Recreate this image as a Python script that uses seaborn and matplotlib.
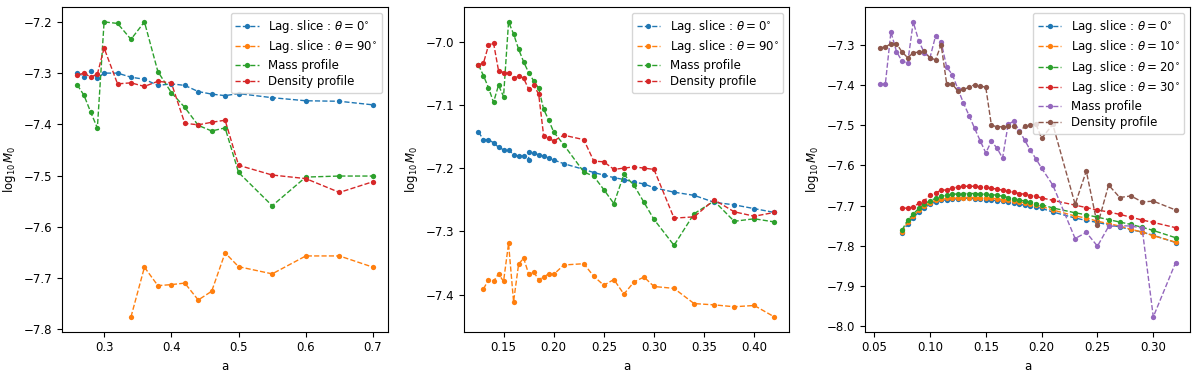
import numpy as np
import pandas as pd
import matplotlib
matplotlib.use("Agg")
import matplotlib.pyplot as plt
import seaborn as sns

# -------------------------------
# Panel 1 data
# -------------------------------
a1_lag0 = [0.26, 0.27, 0.28, 0.29, 0.30, 0.32, 0.34, 0.36, 0.38, 0.40,
           0.42, 0.44, 0.46, 0.48, 0.50, 0.55, 0.60, 0.65, 0.70]
m1_lag0 = [-7.299, -7.307, -7.296, -7.310, -7.300, -7.300, -7.308, -7.312, -7.324, -7.321,
           -7.324, -7.336, -7.341, -7.344, -7.340, -7.348, -7.354, -7.355, -7.362]
a1_lag90 = [0.34, 0.36, 0.38, 0.40, 0.42, 0.44, 0.46, 0.48, 0.50, 0.55, 0.60, 0.65, 0.70]
m1_lag90 = [-7.776, -7.679, -7.715, -7.713, -7.710, -7.743, -7.726, -7.651, -7.678,
            -7.692, -7.657, -7.657, -7.679]
a1_prof = a1_lag0
m1_mass = [-7.323, -7.343, -7.376, -7.407, -7.200, -7.203, -7.234, -7.200, -7.297, -7.338,
           -7.367, -7.402, -7.413, -7.407, -7.494, -7.559, -7.503, -7.501, -7.501]
m1_dens = [-7.304, -7.300, -7.308, -7.302, -7.251, -7.321, -7.319, -7.326, -7.316, -7.319,
           -7.398, -7.401, -7.396, -7.392, -7.480, -7.499, -7.506, -7.533, -7.512]

# -------------------------------
# Panel 2 data
# -------------------------------
a2_lag0 = [0.125, 0.13, 0.135, 0.14, 0.145, 0.15, 0.155, 0.16, 0.165, 0.17, 0.175, 0.175,
           0.18, 0.185, 0.19, 0.195, 0.20, 0.21, 0.23, 0.24, 0.25, 0.26, 0.27, 0.28, 0.29,
           0.30, 0.32, 0.34, 0.36, 0.38, 0.40, 0.42]
m2_lag0 = [-7.143, -7.155, -7.155, -7.160, -7.167, -7.171, -7.171, -7.179, -7.181, -7.181,
           -7.187, -7.174, -7.176, -7.179, -7.181, -7.184, -7.187, -7.193, -7.202, -7.207,
           -7.211, -7.215, -7.218, -7.222, -7.225, -7.231, -7.238, -7.243, -7.254, -7.258,
           -7.264, -7.270]
a2_lag90 = [0.13, 0.135, 0.14, 0.145, 0.15, 0.155, 0.16, 0.165, 0.17, 0.175, 0.18, 0.185,
            0.19, 0.195, 0.20, 0.21, 0.23, 0.24, 0.25, 0.26, 0.27, 0.28, 0.29, 0.30, 0.32,
            0.34, 0.36, 0.38, 0.40, 0.42]
m2_lag90 = [-7.391, -7.376, -7.379, -7.367, -7.379, -7.319, -7.411, -7.352, -7.342, -7.367,
            -7.364, -7.376, -7.372, -7.367, -7.368, -7.353, -7.351, -7.371, -7.385, -7.376,
            -7.399, -7.380, -7.372, -7.387, -7.390, -7.414, -7.416, -7.419, -7.417, -7.435]
a2_prof = [0.125, 0.13, 0.135, 0.14, 0.145, 0.15, 0.155, 0.16, 0.165, 0.17, 0.175, 0.18,
           0.185, 0.19, 0.195, 0.20, 0.21, 0.23, 0.24, 0.25, 0.26, 0.27, 0.28, 0.29, 0.30,
           0.32, 0.34, 0.36, 0.38, 0.40, 0.42]
m2_mass = [-7.037, -7.054, -7.073, -7.096, -7.069, -7.087, -6.969, -6.988, -7.012, -7.032,
           -7.049, -7.062, -7.074, -7.107, -7.124, -7.143, -7.163, -7.206, -7.213, -7.234,
           -7.256, -7.210, -7.227, -7.254, -7.281, -7.322, -7.272, -7.252, -7.284, -7.280,
           -7.285]
m2_dens = [-7.037, -7.034, -7.006, -7.002, -7.046, -7.049, -7.050, -7.058, -7.054, -7.058,
           -7.075, -7.069, -7.083, -7.149, -7.153, -7.157, -7.148, -7.155, -7.189, -7.190,
           -7.202, -7.200, -7.198, -7.200, -7.202, -7.279, -7.277, -7.250, -7.269, -7.276,
           -7.270]

# -------------------------------
# Panel 3 data
# -------------------------------
a3_lag = [0.075, 0.08, 0.085, 0.09, 0.095, 0.10, 0.105, 0.11, 0.115, 0.12, 0.125, 0.13,
          0.135, 0.14, 0.145, 0.15, 0.155, 0.16, 0.165, 0.17, 0.175, 0.18, 0.185, 0.19,
          0.195, 0.20, 0.21, 0.23, 0.24, 0.25, 0.26, 0.27, 0.28, 0.29, 0.30, 0.32]
m3_lag0 = [-7.769, -7.745, -7.730, -7.716, -7.705, -7.697, -7.691, -7.687, -7.686, -7.684,
           -7.683, -7.682, -7.682, -7.683, -7.684, -7.685, -7.686, -7.688, -7.689, -7.691,
           -7.694, -7.697, -7.699, -7.702, -7.704, -7.707, -7.716, -7.731, -7.737, -7.742,
           -7.748, -7.753, -7.760, -7.766, -7.774, -7.792]
m3_lag10 = [-7.766, -7.741, -7.726, -7.712, -7.701, -7.693, -7.687, -7.684, -7.682, -7.682,
            -7.681, -7.680, -7.680, -7.680, -7.681, -7.682, -7.682, -7.683, -7.685, -7.687,
            -7.689, -7.691, -7.693, -7.696, -7.699, -7.702, -7.711, -7.726, -7.731, -7.739,
            -7.745, -7.751, -7.759, -7.766, -7.775, -7.791]
m3_lag20 = [-7.761, -7.736, -7.721, -7.707, -7.696, -7.688, -7.682, -7.677, -7.674, -7.672,
            -7.671, -7.670, -7.670, -7.670, -7.671, -7.672, -7.673, -7.674, -7.677, -7.680,
            -7.683, -7.686, -7.689, -7.692, -7.695, -7.698, -7.706, -7.718, -7.723, -7.729,
            -7.735, -7.741, -7.747, -7.754, -7.762, -7.780]
m3_lag30 = [-7.707, -7.706, -7.704, -7.694, -7.688, -7.674, -7.668, -7.662, -7.661, -7.657,
            -7.654, -7.652, -7.652, -7.652, -7.654, -7.655, -7.657, -7.659, -7.662, -7.665,
            -7.667, -7.670, -7.672, -7.675, -7.677, -7.681, -7.687, -7.699, -7.705, -7.711,
            -7.716, -7.722, -7.729, -7.736, -7.742, -7.755]
a3_prof = [0.055, 0.06, 0.065, 0.07, 0.075, 0.08, 0.085, 0.09, 0.095, 0.10, 0.105, 0.11,
           0.115, 0.12, 0.125, 0.13, 0.135, 0.14, 0.145, 0.15, 0.155, 0.16, 0.165, 0.17,
           0.175, 0.18, 0.185, 0.19, 0.195, 0.20, 0.21, 0.23, 0.24, 0.25, 0.26, 0.27, 0.28,
           0.29, 0.30, 0.32]
m3_mass = [-7.398, -7.398, -7.268, -7.317, -7.341, -7.345, -7.243, -7.291, -7.320, -7.332,
           -7.278, -7.293, -7.356, -7.374, -7.410, -7.445, -7.476, -7.508, -7.539, -7.569,
           -7.540, -7.557, -7.582, -7.498, -7.490, -7.514, -7.538, -7.563, -7.584, -7.607,
           -7.649, -7.782, -7.767, -7.801, -7.752, -7.750, -7.751, -7.756, -7.977, -7.842]
m3_dens = [-7.307, -7.306, -7.297, -7.297, -7.318, -7.332, -7.320, -7.318, -7.316, -7.333,
           -7.337, -7.300, -7.398, -7.398, -7.415, -7.411, -7.406, -7.399, -7.402, -7.406,
           -7.500, -7.504, -7.504, -7.503, -7.503, -7.518, -7.502, -7.499, -7.498, -7.533,
           -7.498, -7.697, -7.614, -7.749, -7.649, -7.680, -7.676, -7.691, -7.689, -7.711]

lag_label = r"Lag. slice : $\theta = {}^{{\circ}}$"
colors = sns.color_palette("tab10")

panels = [
    [(a1_lag0, m1_lag0, lag_label.format(0)),
     (a1_lag90, m1_lag90, lag_label.format(90)),
     (a1_prof, m1_mass, "Mass profile"),
     (a1_prof, m1_dens, "Density profile")],
    [(a2_lag0, m2_lag0, lag_label.format(0)),
     (a2_lag90, m2_lag90, lag_label.format(90)),
     (a2_prof, m2_mass, "Mass profile"),
     (a2_prof, m2_dens, "Density profile")],
    [(a3_lag, m3_lag0, lag_label.format(0)),
     (a3_lag, m3_lag10, lag_label.format(10)),
     (a3_lag, m3_lag20, lag_label.format(20)),
     (a3_lag, m3_lag30, lag_label.format(30)),
     (a3_prof, m3_mass, "Mass profile"),
     (a3_prof, m3_dens, "Density profile")],
]

plt.rcParams["font.size"] = 8.5

fig, axes = plt.subplots(1, 3, figsize=(12, 3.76), dpi=100)
fig.subplots_adjust(left=0.052, right=0.992, bottom=0.118, top=0.981, wspace=0.233)

for ax, series in zip(axes, panels):
    for i, (x, y, lab) in enumerate(series):
        df = pd.DataFrame({"a": x, "m": y})
        sns.lineplot(data=df, x="a", y="m", ax=ax, sort=False, estimator=None,
                     color=colors[i], linestyle="--", linewidth=1.0, marker="o",
                     markersize=3.8, markeredgecolor=colors[i], markeredgewidth=0,
                     label=lab)
    ax.set_xlabel("a")
    ax.set_ylabel(r"$\log_{10} M_0$")
    ax.legend(loc="upper right", labelspacing=0.3)

axes[0].set_xticks([0.3, 0.4, 0.5, 0.6, 0.7])
axes[1].set_xticks([0.15, 0.20, 0.25, 0.30, 0.35, 0.40])
axes[2].set_xticks([0.05, 0.10, 0.15, 0.20, 0.25, 0.30])

fig.savefig("out.png", dpi=100)
